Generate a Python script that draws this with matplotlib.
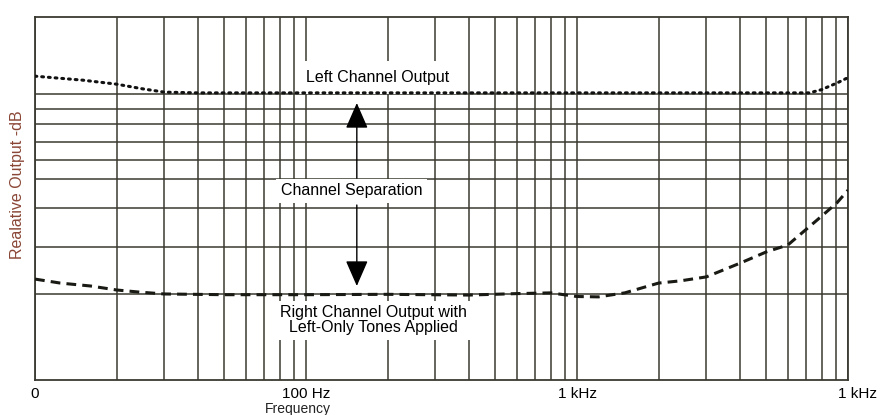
import matplotlib
matplotlib.use('Agg')
import matplotlib.pyplot as plt
import matplotlib.transforms as mtransforms
from matplotlib.ticker import FixedLocator, NullFormatter, LogLocator

plt.rcParams['font.family'] = ['Liberation Sans', 'DejaVu Sans']

# ---- data ----
left_freq = [10, 15, 20, 25, 30, 40, 50, 100, 300, 1000, 3000, 7200, 8000, 8400, 9100, 9750, 10000]
left_level = [83.7, 82.6, 81.5, 80.2, 79.3, 79.1, 79.1, 79.1, 79.1, 79.1, 79.1, 79.1, 80.0, 80.7, 81.8, 82.9, 83.3]

right_freq = [10, 12.4, 16, 20, 24.4, 30, 50, 100, 200, 400, 600, 800, 1000, 1200, 1500,
              2000, 2400, 3000, 4000, 5000, 6000, 7700, 9100, 10000]
right_level = [27.8, 26.7, 25.9, 24.8, 24.2, 23.7, 23.5, 23.5, 23.6, 23.4, 23.8, 24.0, 23.0, 22.9, 24.0,
               26.7, 27.3, 28.4, 32.2, 35.3, 37.2, 44.1, 48.8, 52.3]

grid_levels = [23.7, 36.6, 47.4, 55.4, 60.6, 65.6, 70.5, 74.7, 78.8]
tick_freqs = [10, 100, 1000, 10000]
tick_labels = ['0', '100 Hz', '1 kHz', '1 kHz']

grid_color = '#3a3a32'
label_color = '#8a4636'

fig = plt.figure(figsize=(8.82, 4.15), dpi=100)
ax = fig.add_axes([35/882, 1-380/415, 813/882, 363/415])
ax.set_xscale('log')
ax.set_xlim(10, 10000)
ax.set_ylim(0, 100)

# grid
ax.xaxis.set_major_locator(FixedLocator(tick_freqs))
ax.xaxis.set_minor_locator(LogLocator(base=10, subs=range(2, 10)))
ax.xaxis.set_minor_formatter(NullFormatter())
ax.set_xticklabels(tick_labels)
ax.yaxis.set_major_locator(FixedLocator(grid_levels))
ax.yaxis.set_major_formatter(NullFormatter())
ax.grid(True, which='both', color=grid_color, lw=1.1, zorder=1)
ax.tick_params(which='both', length=0)
ax.tick_params(axis='x', labelsize=11, pad=5)
for sp in ax.spines.values():
    sp.set_color(grid_color)
    sp.set_linewidth(1.3)
ax.set_axisbelow(True)

# shift last tick label slightly right like the reference
lbls = ax.get_xticklabels()
lbls[-1].set_transform(lbls[-1].get_transform() + mtransforms.ScaledTranslation(0.1, 0, fig.dpi_scale_trans))

# curves
ax.plot(left_freq, left_level, color='#111111', lw=2.2, linestyle=(0, (0.6, 1.6)),
        dash_capstyle='round', zorder=4)
ax.plot(right_freq, right_level, color='#1a1a14', lw=2.2, linestyle=(0, (3.2, 2.0)), zorder=4)

# annotations
box = dict(boxstyle='square,pad=0.55', facecolor='white', edgecolor='none')
ax.text(184, 83.3, 'Left Channel Output', ha='center', va='center', fontsize=11.5,
        bbox=box, zorder=3)
ax.text(147, 52.1, 'Channel Separation', ha='center', va='center', fontsize=11.5,
        bbox=dict(boxstyle='square,pad=0.3', facecolor='white', edgecolor='none'), zorder=3)
ax.text(178, 16.5, 'Right Channel Output with\nLeft-Only Tones Applied', ha='center', va='center',
        fontsize=11.5, linespacing=0.95,
        bbox=dict(boxstyle='square,pad=0.3', facecolor='white', edgecolor='none'), zorder=3)

arrow_f = 154
ax.annotate('', xy=(arrow_f, 76.3), xytext=(arrow_f, 55.6),
            arrowprops=dict(arrowstyle='-|>,head_length=1.6,head_width=0.7', color='black',
                            lw=1.0, shrinkA=0, shrinkB=0, mutation_scale=10), zorder=5)
ax.annotate('', xy=(arrow_f, 25.9), xytext=(arrow_f, 48.2),
            arrowprops=dict(arrowstyle='-|>,head_length=1.6,head_width=0.7', color='black',
                            lw=1.0, shrinkA=0, shrinkB=0, mutation_scale=10), zorder=5)

# axis labels
fig.text(18/882, 1-185/415, 'Realative Output -dB', rotation=90, ha='center', va='center',
         fontsize=11.5, color=label_color)
fig.text(298/882, 1-408.5/415, 'Frequency', ha='center', va='center', fontsize=10, color='#222222')

fig.savefig('out.png', dpi=100)
